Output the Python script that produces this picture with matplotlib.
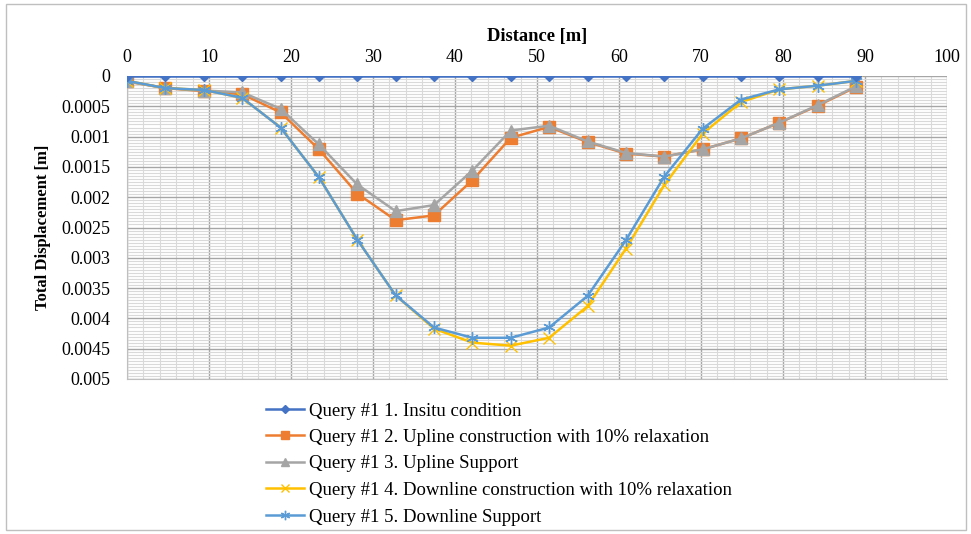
import matplotlib.pyplot as plt
from matplotlib.patches import Rectangle
from matplotlib.ticker import MultipleLocator

# distance along the section [m]
dist = [0, 4.68, 9.36, 14.04, 18.72, 23.4, 28.08, 32.76, 37.44, 42.12,
        46.8, 51.48, 56.16, 60.84, 65.52, 70.2, 74.88, 79.56, 84.24, 88.92]

insitu = [0.0] * 20
upline_constr = [0.00009, 0.0002, 0.00025, 0.0003, 0.0006, 0.00121, 0.00194, 0.00238, 0.0023, 0.00172,
                 0.00102, 0.00084, 0.00109, 0.00128, 0.00133, 0.00121, 0.00103, 0.00077, 0.00049, 0.00018]
upline_support = [0.00009, 0.0002, 0.00024, 0.00027, 0.00054, 0.00113, 0.00179, 0.00223, 0.00213, 0.00156,
                  0.0009, 0.00082, 0.00108, 0.00127, 0.00133, 0.00121, 0.00103, 0.00077, 0.00048, 0.00017]
downline_constr = [0.00008, 0.0002, 0.00023, 0.00036, 0.00085, 0.00167, 0.0027, 0.00362, 0.00417, 0.0044,
                   0.00445, 0.00432, 0.0038, 0.00285, 0.0018, 0.00095, 0.00043, 0.00022, 0.00016, 0.00008]
downline_support = [0.00008, 0.0002, 0.00023, 0.00036, 0.00085, 0.00167, 0.0027, 0.00362, 0.00415, 0.00432,
                    0.00432, 0.00415, 0.00363, 0.00271, 0.00166, 0.00087, 0.00039, 0.00022, 0.00016, 0.00008]

labels = ['Query #1 1. Insitu condition',
          'Query #1 2. Upline construction with 10% relaxation',
          'Query #1 3. Upline Support',
          'Query #1 4. Downline construction with 10% relaxation',
          'Query #1 5. Downline Support']

plt.rcParams['font.family'] = ['Liberation Serif', 'DejaVu Serif']

fig = plt.figure(figsize=(9.71, 5.34), dpi=100)
ax = fig.add_axes([127 / 971, 1 - 379 / 534, 820 / 971, 303 / 534])

ax.plot(dist, insitu, color='#4472C4', lw=1.8, marker='D', ms=5.5, label=labels[0], zorder=6)
ax.plot(dist, upline_constr, color='#ED7D31', lw=1.8, marker='s', ms=8, label=labels[1], zorder=3)
ax.plot(dist, upline_support, color='#A5A5A5', lw=1.8, marker='^', ms=8, label=labels[2], zorder=4)
ax.plot(dist, downline_constr, color='#FFC000', lw=1.8, marker='x', ms=8, mew=1, label=labels[3], zorder=4)
ax.plot(dist, downline_support, color='#5B9BD5', lw=1.8, marker=(6, 2, 0), ms=9, mew=1, label=labels[4], zorder=5)

ax.set_xlim(0, 100)
ax.set_ylim(0.005, 0)
ax.xaxis.tick_top()
ax.xaxis.set_label_position('top')
ax.xaxis.set_major_locator(MultipleLocator(10))
ax.xaxis.set_minor_locator(MultipleLocator(2))
ax.yaxis.set_major_locator(MultipleLocator(0.0005))
ax.yaxis.set_minor_locator(MultipleLocator(0.00005))
ax.yaxis.set_major_formatter(plt.FuncFormatter(lambda v, p: ('%.4f' % v).rstrip('0').rstrip('.') if v else '0'))
ax.tick_params(which='both', length=0, labelsize=13)
ax.tick_params(axis='x', pad=7)
ax.tick_params(axis='y', pad=12)
ax.grid(which='major', color='#a6a6a6', lw=1)
ax.grid(which='minor', color='#d9d9d9', lw=0.8)
ax.set_axisbelow(True)
for s in ax.spines.values():
    s.set_color('#bfbfbf')
ax.spines['top'].set_visible(False)
ax.spines['right'].set_visible(False)

ax.set_xlabel('Distance [m]', fontsize=13.3, fontweight='bold', labelpad=6)
ax.set_ylabel('Total Displacement [m]', fontsize=12, fontweight='bold', labelpad=7)

fig.legend(loc='upper left', bbox_to_anchor=(257 / 971, 1 - 393 / 534), frameon=False, borderpad=0,
           fontsize=13.5, handlelength=2.0, labelspacing=0.5, handletextpad=0.25, markerscale=0.75)

fig.patches.append(Rectangle((6 / 971, 4 / 534), 960 / 971, 526 / 534, transform=fig.transFigure,
                             fill=False, edgecolor='#bfbfbf', lw=1))

fig.savefig('out.png', dpi=100)
